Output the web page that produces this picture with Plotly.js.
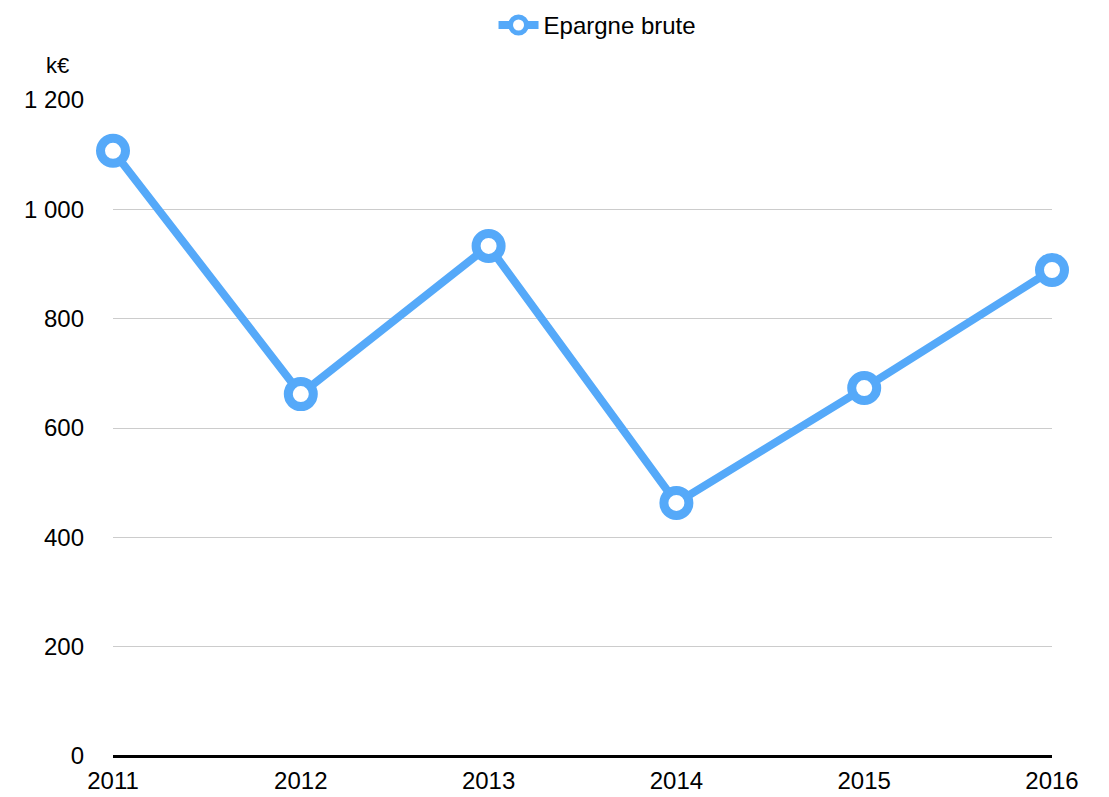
<!DOCTYPE html>
<html>
<head>
<meta charset="utf-8">
<script src="https://cdn.plot.ly/plotly-3.0.1.min.js"></script>
<style>html,body{margin:0;padding:0;background:#fff;}#chart{width:1109px;height:797px;}</style>
</head>
<body>
<div id="chart"></div>
<script>
const years = [2011, 2012, 2013, 2014, 2015, 2016];
const epargneBrute = [1107, 662, 933, 463, 673, 889];
const yTickVals = [0, 200, 400, 600, 800, 1000, 1200];
const yTickText = ["0", "200", "400", "600", "800", "1 000", "1 200"];
const seriesName = "Epargne brute";
const unitLabel = "k€";

const trace = {
  x: years,
  y: epargneBrute,
  name: seriesName,
  type: "scatter",
  mode: "lines+markers",
  line: {color: "#55a9f9", width: 8},
  marker: {size: 25, color: "#ffffff", line: {color: "#55a9f9", width: 9}},
  cliponaxis: false
};

const layout = {
  width: 1109, height: 797,
  margin: {l: 113, r: 57, t: 100, b: 41, autoexpand: false},
  paper_bgcolor: "#ffffff", plot_bgcolor: "#ffffff",
  font: {family: "Liberation Sans, Arial, sans-serif", size: 24, color: "#000"},
  showlegend: true,
  legend: {orientation: "h", x: 0.516, xanchor: "center", y: 1.148, yanchor: "top", yref: "paper",
           itemwidth: 40, font: {size: 24}},
  xaxis: {
    range: [2011, 2016], tickvals: years, ticktext: years.map(String),
    showgrid: false, zeroline: false, showline: false, ticks: "", ticklen: 0,
    ticklabelstandoff: 8, automargin: false,
    tickfont: {size: 24}, fixedrange: true
  },
  yaxis: {
    range: [0, 1200], tickvals: yTickVals, ticktext: yTickText,
    showgrid: true, gridcolor: "#cccccc", gridwidth: 1,
    zeroline: true, zerolinecolor: "#000000", zerolinewidth: 3,
    showline: false, ticks: "", ticklabelstandoff: 28, automargin: false,
    tickfont: {size: 24}, fixedrange: true
  },
  annotations: [{
    text: unitLabel, xref: "paper", yref: "paper", x: -0.059, y: 1.03,
    xanchor: "center", yanchor: "bottom", showarrow: false, font: {size: 22}
  }]
};

Plotly.newPlot("chart", [trace], layout, {displayModeBar: false, staticPlot: true});
</script>
</body>
</html>
